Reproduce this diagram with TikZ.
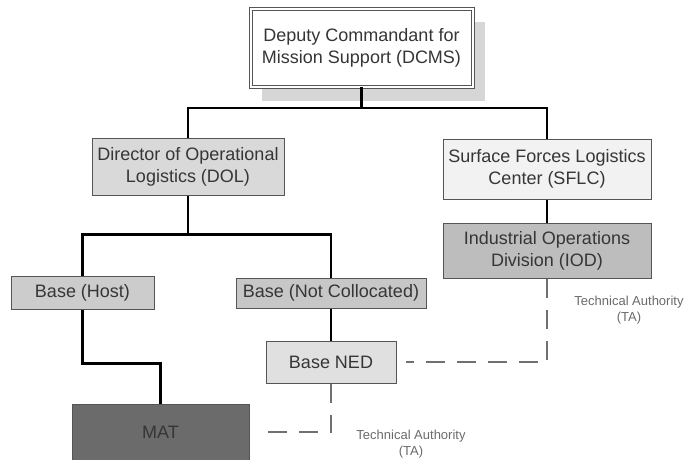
\documentclass[tikz,border=0pt]{standalone}
\usepackage{fontspec}
\setmainfont{Liberation Sans}
\usetikzlibrary{calc,backgrounds}
\definecolor{boxline}{HTML}{555555}
\definecolor{boxtext}{HTML}{363636}
\definecolor{shadowgray}{HTML}{D6D6D6}
\definecolor{tagray}{HTML}{6A6A6A}
\definecolor{dashgray}{HTML}{707070}
\tikzset{
	orgbox/.style={draw=boxline, line width=1pt, text=boxtext, align=center, inner sep=0pt,
		font=\fontsize{18}{22}\selectfont},
	orgline/.style={draw=black, line width=2.2pt},
	taline/.style={draw=dashgray, line width=2pt, dash pattern=on 19pt off 12pt},
	talabel/.style={text=tagray, align=center, inner sep=0pt, font=\fontsize{13}{16}\selectfont}
}
\begin{document}
\begin{tikzpicture}[x=1pt, y=-1pt]
	\useasboundingbox (0,0) rectangle (684,459);
	% boxes
	\node[orgbox, fill=white, double=white, double distance=2pt, minimum width=222pt, minimum height=78pt] (dcms) at (361.5,47.5) {Deputy Commandant for\\Mission Support (DCMS)};
	\node[orgbox, fill=black!15, minimum width=192pt, minimum height=57pt] (dol) at (188,166.5) {Director of Operational\\Logistics (DOL)};
	\node[orgbox, fill=black!5, minimum width=208pt, minimum height=60pt] (sflc) at (547,169) {Surface Forces Logistics\\Center (SFLC)};
	\node[orgbox, fill=black!26, minimum width=208pt, minimum height=55pt] (iod) at (547,250.5) {Industrial Operations\\Division (IOD)};
	\node[orgbox, fill=black!20, minimum width=143pt, minimum height=33pt] (host) at (82.5,292.5) {Base (Host)};
	\node[orgbox, fill=black!22, minimum width=190pt, minimum height=30pt] (notcol) at (331,293) {Base (Not Collocated)};
	\node[orgbox, fill=black!12, minimum width=130pt, minimum height=42pt] (ned) at (331,362) {Base NED};
	\node[orgbox, fill=black!58, minimum width=177pt, minimum height=56pt] (mat) at (160.5,432) {MAT};
	\begin{scope}[on background layer]
		\fill[shadowgray] ($(dcms.south west)+(12,14)$) rectangle ($(dcms.north east)+(12,14)$);
	\end{scope}
	% solid lines
	\draw[orgline] (dcms.south) -- ++(0,21) -| (dol.north);
	\draw[orgline] (dcms.south) -- ++(0,21) -| (sflc.north);
	\draw[orgline] (sflc.south) -- (iod.north);
	\draw[orgline] (dol.south) -- ++(0,39) -| (host.north);
	\draw[orgline] (dol.south) -- ++(0,39) -| (notcol.north);
	\draw[orgline] (host.south) -- ++(0,54) -| (mat.north);
	\draw[orgline] (notcol.south) -- (ned.north);
	% technical authority
	\draw[taline] (iod.south) -- (iod.south |- ned.east) -- ($(ned.east)+(9,0)$);
	\draw[taline] (ned.south) -- (ned.south |- mat.east) -- ($(mat.east)+(8,0)$);
	\node[talabel] (tatop) at (629,310) {Technical Authority\\(TA)};
	\node[talabel] (tabottom) at (411,444) {Technical Authority\\(TA)};
\end{tikzpicture}
\end{document}
